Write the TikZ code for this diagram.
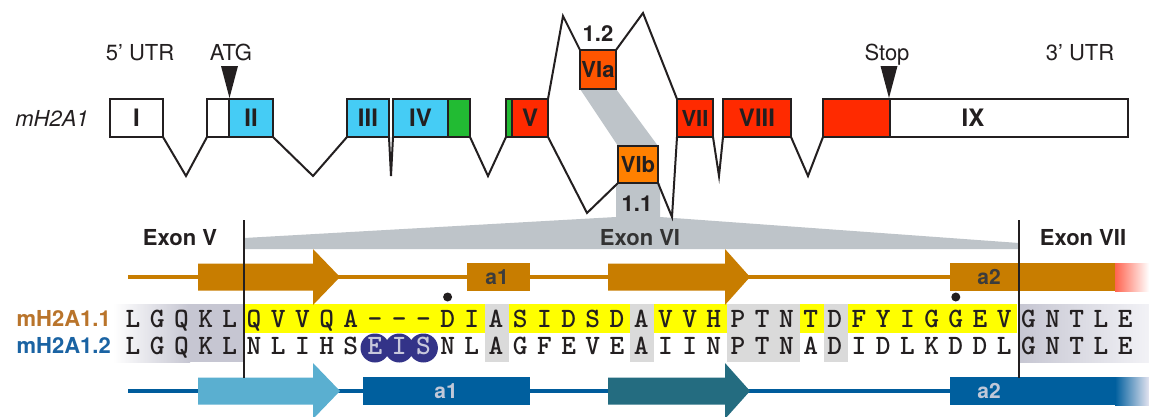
\documentclass[tikz,border=0pt]{standalone}
\usepackage{fontspec}
\setmainfont{TeX Gyre Heros}
\usetikzlibrary{calc,backgrounds}
\definecolor{cyanex}{HTML}{45CCF5}
\definecolor{greenex}{HTML}{22BB33}
\definecolor{redex}{HTML}{FF2A00}
\definecolor{vianode}{HTML}{FF5500}
\definecolor{vibnode}{HTML}{FF8000}
\definecolor{bandgray}{HTML}{BEC4C9}
\definecolor{orstruct}{HTML}{C87D00}
\definecolor{bluestruct}{HTML}{005C9C}
\definecolor{lightbluearrow}{HTML}{5AAFD0}
\definecolor{tealarrow}{HTML}{246C80}
\definecolor{helixblue}{HTML}{005F9E}
\definecolor{eisblue}{HTML}{333388}
\definecolor{eistext}{HTML}{C8C8DC}
\definecolor{identgray}{HTML}{DADADA}
\definecolor{flankgray}{HTML}{C6C6D2}
\definecolor{flanklight}{HTML}{F2F2F6}
\definecolor{labor}{HTML}{B9742B}
\definecolor{labbl}{HTML}{1A63A3}
\definecolor{hxlabdark}{HTML}{3C3C3C}
\definecolor{hxlablight}{HTML}{C0C8D8}
\definecolor{fadered}{HTML}{FF6450}
\definecolor{fadeblue}{HTML}{E4E4F0}
\definecolor{inkblack}{HTML}{231F20}
\definecolor{yellowhl}{HTML}{FFFF00}
\begin{document}
\begin{tikzpicture}[x=1pt,y=-1pt,
  exon/.style={draw=inkblack, line width=2.8pt, minimum height=38pt, inner sep=0pt, outer sep=0pt,
    text height=17pt, text depth=0pt, font=\fontsize{24}{26}\selectfont\bfseries, text=inkblack},
  smallexon/.style={font=\fontsize{22}{24}\selectfont\bfseries, text height=16pt},
  intron/.style={draw=inkblack, line width=2pt, line join=miter},
  lab/.style={font=\fontsize{22}{24}\selectfont, inner sep=0pt, text height=16pt, text depth=0pt, text=inkblack},
  blab/.style={font=\fontsize{22}{24}\selectfont\bfseries, inner sep=0pt, text height=16pt, text depth=0pt, text=inkblack},
  hxlab/.style={font=\fontsize{21}{23}\selectfont\bfseries, inner sep=0pt, text height=15pt, text depth=0pt},
  seq/.style={font=\fontsize{28}{30}\selectfont\ttfamily\bfseries, inner sep=0pt, text height=17pt, text depth=0pt, anchor=center, text=inkblack},
  divider/.style={draw=inkblack, line width=2.4pt},
  strline/.style={line width=4pt}
]
\useasboundingbox (0,0) rectangle (1149,416);

% ---------- gene model ----------
\node[exon, minimum width=53pt, fill=white] (e1) at (136.5,118) {I};
\node[exon, minimum width=22pt, fill=white] (e2a) at (218,118) {};
\node[exon, minimum width=44pt, fill=cyanex] (e2) at (251,118) {II};
\node[exon, minimum width=42pt, fill=cyanex] (e3) at (368,118) {III};
\node[exon, minimum width=55pt, fill=cyanex] (e4) at (420.5,118) {IV};
\node[exon, minimum width=22pt, fill=greenex] (e4g) at (459,118) {};
\node[exon, minimum width=6pt, fill=greenex] (e5g) at (509,118) {};
\node[exon, minimum width=36pt, fill=redex] (e5) at (530,118) {V};
\node[exon, smallexon, minimum width=36pt, minimum height=39pt, fill=vianode] (e6a) at (598,69.5) {VIa};
\node[exon, smallexon, minimum width=40pt, minimum height=37pt, fill=vibnode] (e6b) at (638,164.5) {VIb};
\node[exon, smallexon, minimum width=36pt, fill=redex] (e7) at (695,118) {VII};
\node[exon, minimum width=68pt, fill=redex] (e8) at (757,118) {VIII};
\node[exon, minimum width=67pt, fill=redex] (e9a) at (856.5,118) {};
\node[exon, minimum width=238pt, fill=white] (e9) at (1009,118) {};
\node[blab, font=\fontsize{24}{26}\selectfont\bfseries, text height=17pt] (l9) at (973,118) {IX};

\coordinate (v1) at (186,176);
\coordinate (v2) at (313,176);
\coordinate (v3) at (391,176);
\coordinate (v4) at (488,176);
\coordinate (p5) at (563,16);
\coordinate (p6) at (643,13);
\coordinate (v5) at (587,213);
\coordinate (v6) at (672,217);
\coordinate (v7) at (719,176);
\coordinate (v8) at (808,176);

\draw[intron] (e1.south east) -- (v1) -- (e2a.south west);
\draw[intron] (e2.south east) -- (v2) -- (e3.south west);
\draw[intron] (e3.south east) -- (v3) -- (e4.south west);
\draw[intron] (e4g.south east) -- (v4) -- (e5g.south west);
\draw[intron] (e5.north east) -- (p5) -- (e6a.north west);
\draw[intron] (e6a.north east) -- (p6) -- (e7.north west);
\draw[intron] (e5.south east) -- (v5) -- (e6b.south west);
\draw[intron] (e6b.south east) -- (v6) -- (e7.south west);
\draw[intron] (e7.south east) -- (v7) -- (e8.south west);
\draw[intron] (e8.south east) -- (v8) -- (e9a.south west);

\begin{scope}[on background layer]
  \fill[white] (0,0) rectangle (1149,416);
  \fill[bandgray] (e6a.south west) -- (e6a.south east) -- (e6b.north east) -- (e6b.north west) -- cycle;
  \fill[bandgray] ($(e6b.south west)+(-2,0)$) -- ($(e6b.south east)+(2,0)$) -- (660,217) -- (1019,243)
     -- (1019,249) -- (244,249) -- (244,238) -- (616,217) -- cycle;
\end{scope}

% markers
\coordinate (atgtip) at (229.5,98);
\coordinate (stoptip) at (889,98);
\fill[inkblack] ($(atgtip)+(-8.5,-32)$) -- ($(atgtip)+(8.5,-32)$) -- (atgtip) -- cycle;
\fill[inkblack] ($(stoptip)+(-8.5,-32)$) -- ($(stoptip)+(8.5,-32)$) -- (stoptip) -- cycle;

\node[lab] (utr5) at (140,52) {5’ UTR};
\node[lab] (atg) at (231,52) {ATG};
\node[lab] (stop) at (887,52) {Stop};
\node[lab] (utr3) at (1080,52) {3’ UTR};
\node[lab, font=\fontsize{22}{24}\selectfont\itshape] (gene) at (52,118) {mH2A1};
\node[blab] (iso2) at (598,33) {1.2};
\node[blab] (iso1) at (637,203) {1.1};
\node[blab] (exv) at (180,237) {Exon V};
\node[blab, text=black!80] (exvi) at (640,237) {Exon VI};
\node[blab] (exvii) at (1083,237) {Exon VII};

% ---------- alignment ----------
\shade[left color=white, right color=flankgray] (113,304) rectangle (190,362);
\fill[flankgray] (189.5,304) rectangle (244,362);
\shade[left color=flankgray, right color=flanklight] (1019,304) rectangle (1149,362);
\foreach \a/\b in {5/14,16/20,22/24,28/28,30/36}
  \fill[yellowhl] ({122+24.2*\a},304) rectangle ({122+24.2*(\b+1)},333);
\foreach \a/\b in {15/15,21/21,25/27,29/29}
  \fill[identgray] ({122+24.2*\a},304) rectangle ({122+24.2*(\b+1)},362);

\foreach \k in {10,11,12}
  \fill[eisblue] ({133+24.2*\k},348) circle (14.5);

\foreach \c [count=\i from 0] in {L,G,Q,K,L,Q,V,V,Q,A,-,-,-,D,I,A,S,I,D,S,D,A,V,V,H,P,T,N,T,D,F,Y,I,G,G,E,V,G,N,T,L,E}
  \node[seq] (ra\i) at ({133+24.2*\i},318.5) {\c};
\foreach \c [count=\i from 0] in {L,G,Q,K,L,N,L,I,H,S,E,I,S,N,L,A,G,F,E,V,E,A,I,I,N,P,T,N,A,D,I,D,L,K,D,D,L,G,N,T,L,E}{
  \ifnum\i>9 \ifnum\i<13 \def\tcol{eistext}\else\def\tcol{inkblack}\fi\else\def\tcol{inkblack}\fi
  \node[seq, text=\tcol] (rb\i) at ({133+24.2*\i},345.5) {\c};
}

\fill[inkblack] (447.6,297) circle (4.5);
\fill[inkblack] (955.8,297) circle (4.5);

\node[blab, text=labor, anchor=east] (iso11) at (111,318.5) {mH2A1.1};
\node[blab, text=labbl, anchor=east] (iso12) at (111,345.5) {mH2A1.2};

% ---------- secondary structure: mH2A1.1 ----------
\draw[strline, orstruct] (128,277) -- (1116,277);
\fill[orstruct] (198,263.5) -- (313,263.5) -- (313,249) -- (340,277) -- (313,305) -- (313,290.5) -- (198,290.5) -- cycle;
\fill[orstruct] (608,263.5) -- (725,263.5) -- (725,249) -- (750,277) -- (725,305) -- (725,290.5) -- (608,290.5) -- cycle;
\fill[orstruct] (467,263) rectangle (530,291);
\fill[orstruct] (950,263) rectangle (1116,291);
\shade[left color=fadered, right color=white] (1115,263) rectangle (1149,291);
\node[hxlab, text=hxlabdark] (ha1) at (497,277) {a1};
\node[hxlab, text=hxlabdark] (ha2) at (989,277) {a2};

% ---------- secondary structure: mH2A1.2 ----------
\draw[strline, bluestruct] (128,391) -- (1116,391);
\fill[lightbluearrow] (198,377.5) -- (313,377.5) -- (313,363) -- (340,391) -- (313,419) -- (313,404.5) -- (198,404.5) -- cycle;
\fill[tealarrow] (608,377.5) -- (725,377.5) -- (725,363) -- (750,391) -- (725,419) -- (725,404.5) -- (608,404.5) -- cycle;
\fill[helixblue] (363,377) rectangle (530,405);
\fill[helixblue] (950,377) rectangle (1116,405);
\shade[left color=helixblue, right color=fadeblue] (1115,377) rectangle (1149,405);
\node[hxlab, text=hxlablight] (hb1) at (446,391) {a1};
\node[hxlab, text=hxlablight] (hb2) at (989,391) {a2};

% ---------- exon boundaries ----------
\coordinate (d1t) at (244,220);
\coordinate (d1b) at (244,378);
\coordinate (d2t) at (1019,220);
\coordinate (d2b) at (1019,378);
\draw[divider] (d1t) -- (d1b);
\draw[divider] (d2t) -- (d2b);
\end{tikzpicture}
\end{document}
